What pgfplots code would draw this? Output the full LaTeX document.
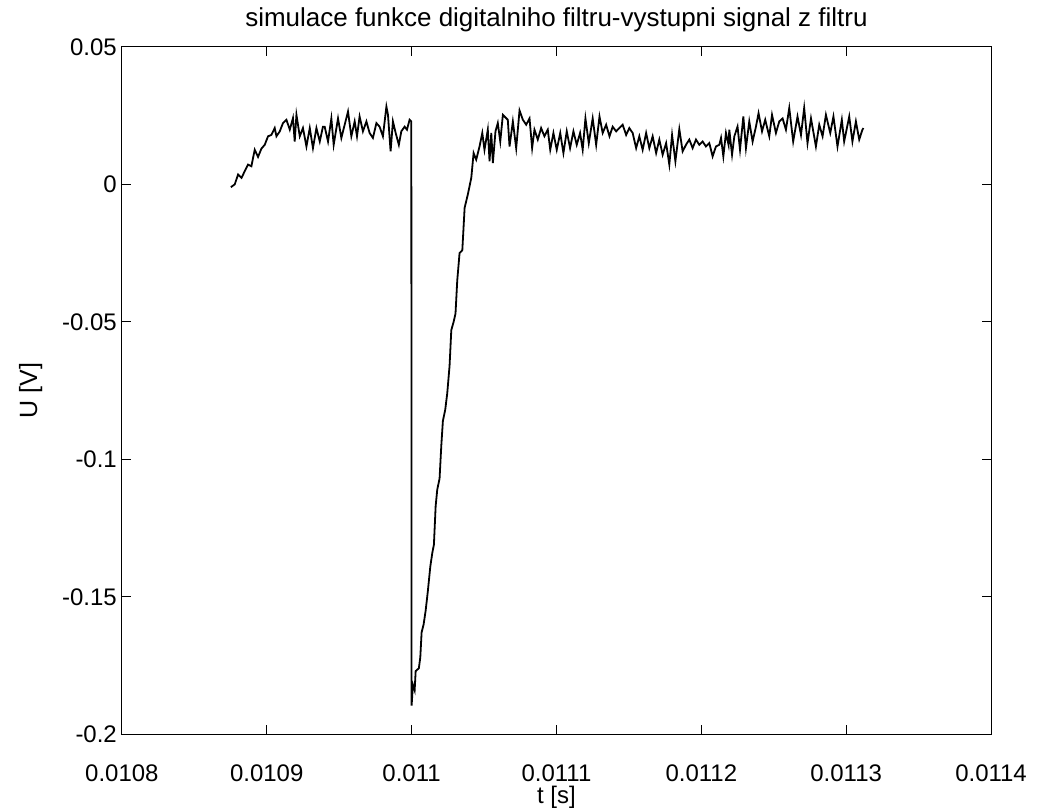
\documentclass[border=0pt]{standalone}
\usepackage{fontspec}
\setmainfont{Liberation Sans}
\usepackage{pgfplots}
\pgfplotsset{compat=1.18}
\begin{document}
\begin{tikzpicture}
\begin{axis}[
  scale only axis,
  width=435pt, height=344pt,
  xmin=0.0108, xmax=0.0114,
  ymin=-0.2, ymax=0.05,
  xtick={0.0108,0.0109,0.011,0.0111,0.0112,0.0113,0.0114},
  ytick={-0.2,-0.15,-0.1,-0.05,0,0.05},
  xticklabels={0.0108,0.0109,0.011,0.0111,0.0112,0.0113,0.0114},
  yticklabels={-0.2,-0.15,-0.1,-0.05,0,0.05},
  scaled x ticks=false, scaled y ticks=false,
  tick align=inside,
  major tick length=4.5pt,
  axis line style={line width=0.5pt},
  every tick/.style={line width=0.5pt, black},
  tick label style={font=\fontsize{12}{14}\selectfont},
  xticklabel style={inner sep=1pt, yshift=-13.8pt},
  yticklabel style={xshift=1pt},
  title={simulace funkce digitalniho filtru-vystupni signal z filtru},
  title style={font=\fontsize{13}{15}\selectfont, at={(0.5,1)}, anchor=base, yshift=4pt},
  xlabel={t [s]},
  xlabel style={font=\fontsize{12}{14}\selectfont, inner sep=1pt, at={(axis description cs:0.5,-0.0915)}, anchor=center},
  ylabel={U [V]},
  ylabel style={font=\fontsize{12.5}{14}\selectfont, at={(axis description cs:-0.105,0.5)}, anchor=center},
]
\addplot[black, line width=0.9pt] table {
x y
0.0108752 -0.0010
0.0108779 0.0000
0.0108802 0.0036
0.0108826 0.0024
0.0108848 0.0048
0.0108871 0.0072
0.0108894 0.0066
0.0108917 0.0126
0.0108940 0.0100
0.0108963 0.0130
0.0108986 0.0144
0.0109009 0.0175
0.0109032 0.0180
0.0109055 0.0205
0.0109067 0.0175
0.0109090 0.0193
0.0109112 0.0223
0.0109136 0.0235
0.0109159 0.0199
0.0109181 0.0241
0.0109193 0.0156
0.0109205 0.0253
0.0109228 0.0175
0.0109250 0.0205
0.0109274 0.0138
0.0109297 0.0205
0.0109319 0.0132
0.0109343 0.0205
0.0109366 0.0156
0.0109388 0.0210
0.0109400 0.0210
0.0109423 0.0156
0.0109446 0.0240
0.0109462 0.0144
0.0109492 0.0240
0.0109515 0.0169
0.0109538 0.0217
0.0109561 0.0265
0.0109584 0.0175
0.0109607 0.0229
0.0109623 0.0175
0.0109641 0.0247
0.0109664 0.0193
0.0109688 0.0229
0.0109710 0.0187
0.0109733 0.0169
0.0109757 0.0223
0.0109779 0.0210
0.0109802 0.0175
0.0109826 0.0283
0.0109837 0.0253
0.0109855 0.0120
0.0109871 0.0229
0.0109890 0.0187
0.0109912 0.0144
0.0109929 0.0193
0.0109952 0.0210
0.0109968 0.0199
0.0109986 0.0235
0.0109998 0.0229
0.0110000 -0.1896
0.0110009 -0.1820
0.0110021 -0.1840
0.0110028 -0.1770
0.0110050 -0.1760
0.0110060 -0.1720
0.0110069 -0.1630
0.0110083 -0.1600
0.0110097 -0.1550
0.0110112 -0.1480
0.0110129 -0.1390
0.0110143 -0.1340
0.0110154 -0.1310
0.0110166 -0.1170
0.0110177 -0.1110
0.0110193 -0.1070
0.0110205 -0.0950
0.0110216 -0.0860
0.0110232 -0.0820
0.0110246 -0.0760
0.0110262 -0.0660
0.0110274 -0.0530
0.0110290 -0.0500
0.0110303 -0.0470
0.0110315 -0.0350
0.0110331 -0.0250
0.0110350 -0.0240
0.0110366 -0.0085
0.0110388 -0.0037
0.0110412 0.0024
0.0110428 0.0114
0.0110446 0.0090
0.0110469 0.0138
0.0110488 0.0187
0.0110503 0.0126
0.0110526 0.0199
0.0110538 0.0084
0.0110550 0.0187
0.0110561 0.0078
0.0110579 0.0193
0.0110595 0.0223
0.0110612 0.0156
0.0110630 0.0253
0.0110664 0.0235
0.0110676 0.0138
0.0110699 0.0229
0.0110722 0.0132
0.0110745 0.0269
0.0110768 0.0235
0.0110791 0.0217
0.0110814 0.0240
0.0110832 0.0132
0.0110848 0.0199
0.0110871 0.0163
0.0110894 0.0205
0.0110917 0.0175
0.0110940 0.0199
0.0110957 0.0126
0.0110979 0.0187
0.0111002 0.0126
0.0111026 0.0187
0.0111048 0.0114
0.0111071 0.0193
0.0111094 0.0132
0.0111117 0.0193
0.0111140 0.0144
0.0111163 0.0187
0.0111181 0.0126
0.0111200 0.0240
0.0111223 0.0150
0.0111250 0.0240
0.0111274 0.0144
0.0111297 0.0247
0.0111319 0.0187
0.0111343 0.0217
0.0111366 0.0175
0.0111388 0.0210
0.0111412 0.0193
0.0111434 0.0205
0.0111457 0.0217
0.0111481 0.0180
0.0111503 0.0205
0.0111526 0.0187
0.0111550 0.0132
0.0111572 0.0175
0.0111595 0.0126
0.0111619 0.0187
0.0111641 0.0132
0.0111664 0.0175
0.0111688 0.0114
0.0111710 0.0163
0.0111733 0.0108
0.0111757 0.0150
0.0111779 0.0072
0.0111798 0.0180
0.0111821 0.0084
0.0111848 0.0201
0.0111871 0.0120
0.0111894 0.0144
0.0111917 0.0163
0.0111940 0.0132
0.0111963 0.0163
0.0111986 0.0144
0.0112009 0.0156
0.0112032 0.0138
0.0112055 0.0150
0.0112078 0.0102
0.0112101 0.0138
0.0112124 0.0144
0.0112136 0.0169
0.0112152 0.0102
0.0112170 0.0187
0.0112188 0.0144
0.0112193 0.0199
0.0112212 0.0108
0.0112228 0.0175
0.0112250 0.0210
0.0112267 0.0126
0.0112290 0.0247
0.0112308 0.0132
0.0112331 0.0229
0.0112354 0.0156
0.0112377 0.0210
0.0112395 0.0259
0.0112419 0.0193
0.0112441 0.0235
0.0112469 0.0175
0.0112488 0.0253
0.0112515 0.0187
0.0112538 0.0229
0.0112561 0.0240
0.0112584 0.0199
0.0112607 0.0278
0.0112634 0.0156
0.0112664 0.0247
0.0112688 0.0180
0.0112710 0.0278
0.0112733 0.0150
0.0112757 0.0240
0.0112791 0.0138
0.0112814 0.0217
0.0112837 0.0175
0.0112860 0.0253
0.0112890 0.0187
0.0112912 0.0247
0.0112940 0.0138
0.0112970 0.0235
0.0112986 0.0156
0.0113021 0.0247
0.0113043 0.0156
0.0113067 0.0229
0.0113090 0.0163
0.0113112 0.0199
0.0113119 0.0205
};
\end{axis}
\pgfresetboundingbox
\path ([xshift=-61pt,yshift=-37.5pt]current axis.south west) rectangle ([xshift=24.5pt,yshift=23.5pt]current axis.north east);
\end{tikzpicture}
\end{document}
